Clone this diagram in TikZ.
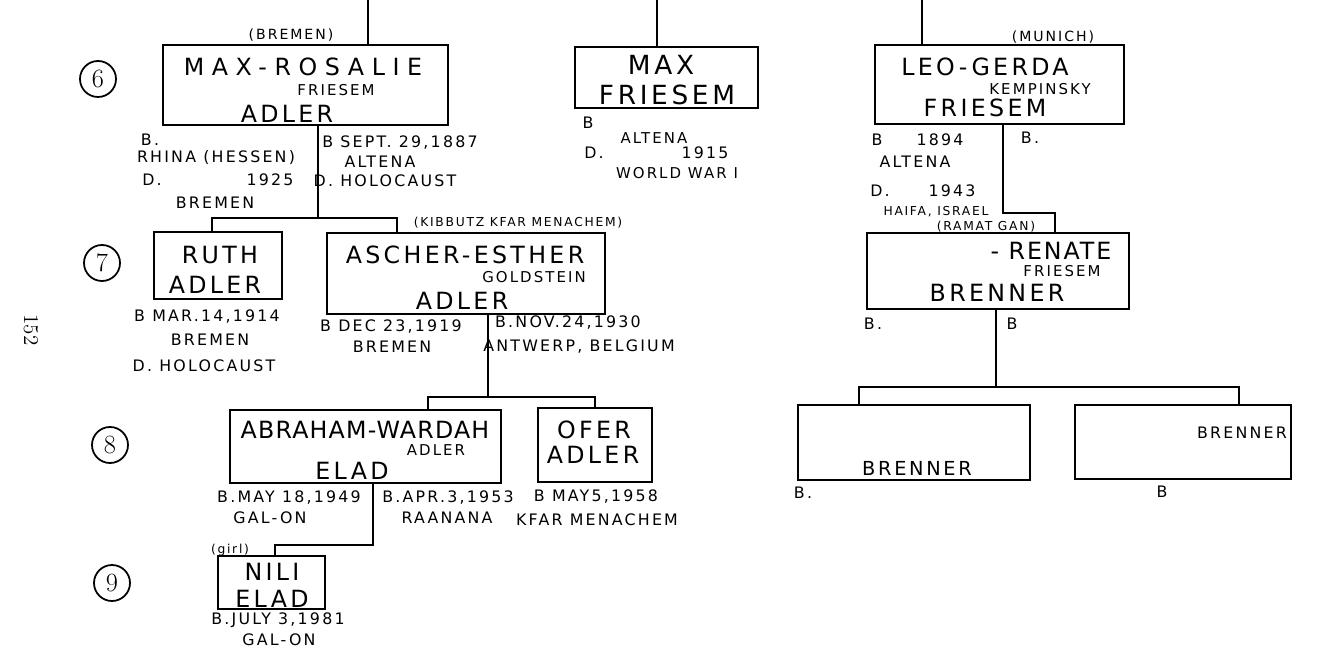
\documentclass[tikz,border=0pt]{standalone}
\usepackage{fontspec}
\newfontfamily\hand[LetterSpace=14]{DejaVu Sans}
\begin{document}
\begin{tikzpicture}[x=0.02cm, y=-0.02cm,
    famblock/.style={draw, line width=1.1pt, inner sep=0pt, outer sep=0pt},
    link/.style={line width=0.8pt},
    bigname/.style={font=\hand\fontsize{13.5}{15}\selectfont, inner sep=0pt},
    spacedname/.style={font=\hand\fontsize{13.5}{15}\selectfont\addfontfeature{LetterSpace=#1}, inner sep=0pt},
    subname/.style={font=\hand\fontsize{8.5}{10}\selectfont, inner sep=0pt},
    dateline/.style={font=\hand\fontsize{9}{11}\selectfont, inner sep=0pt},
    tinynote/.style={font=\hand\fontsize{7}{8}\selectfont, inner sep=0pt},
    gencircle/.style={draw, circle, line width=1pt, minimum size=0.72cm, inner sep=0pt,
      font=\fontsize{15}{17}\selectfont}]
\useasboundingbox (0,0) rectangle (1335,658);
% Generation numbers
\foreach \g/\x/\y in {6/98/79, 7/102/263, 8/110/445, 9/112/583}
    \node[gencircle] (gen\g) at (\x,\y) {\g};
\node[dateline, font=\fontsize{12}{14}\selectfont, rotate=-90] (page) at (31,330) {152};
% Boxes
\node[famblock, minimum width=5.70cm, minimum height=1.60cm] (rosalie) at (305.5,85) {};
\node[famblock, minimum width=3.66cm, minimum height=1.22cm] (maxf) at (666.5,77.5) {};
\node[famblock, minimum width=4.98cm, minimum height=1.58cm] (leo) at (999.5,84.5) {};
\node[famblock, minimum width=5.24cm, minimum height=1.52cm] (renate) at (998,271) {};
\node[famblock, minimum width=2.56cm, minimum height=1.34cm] (ruth) at (218,265.5) {};
\node[famblock, minimum width=5.56cm, minimum height=1.62cm] (ascher) at (466,273.5) {};
\node[famblock, minimum width=5.42cm, minimum height=1.46cm] (abraham) at (365.5,446.5) {};
\node[famblock, minimum width=2.28cm, minimum height=1.48cm] (ofer) at (595,445) {};
\node[famblock, minimum width=2.14cm, minimum height=1.06cm] (nili) at (271.5,582.5) {};
\node[famblock, minimum width=4.64cm, minimum height=1.50cm] (brenA) at (914,442.5) {};
\node[famblock, minimum width=4.32cm, minimum height=1.48cm] (brenB) at (1183,442) {};
% Max - Rosalie
\node[tinynote, font=\hand\fontsize{8}{9}\selectfont] (rosPlace) at (291,35) {(BREMEN)};
\node[spacedname=32] (rosName) at (303,67) {MAX-ROSALIE};
\node[subname] (rosMaiden) at (336,90) {FRIESEM};
\node[bigname] (rosFam) at (287,114) {ADLER};
\node[dateline] (rosB1) at (150,140) {B.};
\node[dateline] (rosB1p) at (216,158) {RHINA (HESSEN)};
\node[dateline] (rosD1) at (152,180) {D.};
\node[dateline] (rosD1y) at (270,180) {1925};
\node[dateline] (rosD1p) at (215,203) {BREMEN};
\node[dateline] (rosB2) at (400,143) {B SEPT. 29,1887};
\node[dateline] (rosB2p) at (380,162) {ALTENA};
\node[dateline] (rosD2) at (385,181) {D. HOLOCAUST};
% Max Friesem
\node[bigname, font=\hand\fontsize{15}{17}\selectfont] (maxName) at (661,65) {MAX};
\node[bigname, font=\hand\fontsize{15}{17}\selectfont] (maxFam) at (667,95) {FRIESEM};
\node[dateline] (maxB) at (588,123) {B};
\node[subname] (maxBp) at (654,138) {ALTENA};
\node[dateline] (maxD) at (594,153) {D.};
\node[dateline] (maxDy) at (705,153) {1915};
\node[subname] (maxDp) at (677,173) {WORLD WAR I};
% Leo - Gerda
\node[tinynote, font=\hand\fontsize{8}{9}\selectfont] (leoPlace) at (1053,37) {(MUNICH)};
\node[bigname] (leoName) at (985,67) {LEO-GERDA};
\node[subname] (leoMaiden) at (1040,89) {KEMPINSKY};
\node[bigname] (leoFam) at (985,108) {FRIESEM};
\node[dateline] (leoB1) at (877,140) {B};
\node[dateline] (leoB1y) at (940,140) {1894};
\node[dateline] (leoB2) at (1030,138) {B.};
\node[dateline] (leoB1p) at (915,162) {ALTENA};
\node[dateline] (leoD1) at (880,191) {D.};
\node[dateline] (leoD1y) at (952,191) {1943};
\node[tinynote] (leoD1p) at (936,212) {HAIFA, ISRAEL};
\node[tinynote] (leoD1q) at (986,227) {(RAMAT GAN)};
% Renate
\node[spacedname=8] (renName) at (1051,251) {- RENATE};
\node[subname] (renMaiden) at (1062,271) {FRIESEM};
\node[bigname] (renFam) at (997,293) {BRENNER};
\node[dateline] (renB1) at (873,324) {B.};
\node[dateline] (renB2) at (1012,324) {B};
\node[dateline, font=\hand\fontsize{11}{13}\selectfont] (brenAName) at (917,468) {BRENNER};
\node[dateline] (brenAB) at (803,493) {B.};
\node[dateline] (brenBName) at (1242,433) {BRENNER};
\node[dateline] (brenBB) at (1162,492) {B};
% Ruth
\node[bigname] (ruthName) at (220,255) {RUTH};
\node[bigname] (ruthFam) at (215,285) {ADLER};
\node[dateline] (ruthB) at (207,317) {B MAR.14,1914};
\node[dateline] (ruthBp) at (210,340) {BREMEN};
\node[dateline] (ruthD) at (204,366) {D. HOLOCAUST};
% Ascher - Esther
\node[tinynote] (ascPlace) at (518,223) {(KIBBUTZ KFAR MENACHEM)};
\node[bigname] (ascName) at (465,255) {ASCHER-ESTHER};
\node[subname] (ascMaiden) at (534,277) {GOLDSTEIN};
\node[bigname] (ascFam) at (462,301) {ADLER};
\node[dateline] (ascB1) at (391,327) {B DEC 23,1919};
\node[dateline] (ascB1p) at (392,347) {BREMEN};
\node[dateline] (ascB2) at (568,323) {B.NOV.24,1930};
\node[dateline] (ascB2p) at (579,347) {ANTWERP, BELGIUM};
% Abraham - Wardah
\node[spacedname=5] (abrName) at (365,430) {ABRAHAM-WARDAH};
\node[subname] (abrMaiden) at (436,450) {ADLER};
\node[bigname] (abrFam) at (352,471) {ELAD};
\node[dateline] (abrB1) at (289,498) {B.MAY 18,1949};
\node[dateline] (abrB1p) at (270,518) {GAL-ON};
\node[dateline] (abrB2) at (448,498) {B.APR.3,1953};
\node[dateline] (abrB2p) at (447,518) {RAANANA};
% Ofer
\node[bigname] (oferName) at (594,430) {OFER};
\node[bigname] (oferFam) at (593,455) {ADLER};
\node[dateline] (oferB) at (596,497) {B MAY5,1958};
\node[dateline] (oferBp) at (597,520) {KFAR MENACHEM};
% Nili
\node[tinynote] (niliNote) at (230,550) {(girl)};
\node[bigname] (niliName) at (272,572) {NILI};
\node[bigname] (niliFam) at (272,599) {ELAD};
\node[dateline] (niliB) at (278,620) {B.JULY 3,1981};
\node[dateline] (niliBp) at (279,640) {GAL-ON};
% Connectors
\coordinate (top6) at (368,0);
\coordinate (topMax) at (657,0);
\coordinate (topLeo) at (922,0);
\draw[link] (top6) -- (top6 |- rosalie.north);
\draw[link] (topMax) -- (topMax |- maxf.north);
\draw[link] (topLeo) -- (topLeo |- leo.north);
\coordinate (j7) at (318,218);
\coordinate (j7l) at (212,218);
\coordinate (j7r) at (397,218);
\draw[link] (rosalie.south -| j7) -- (j7);
\draw[link] (ruth.north -| j7l) -- (j7l) -- (j7r) -- (ascher.north -| j7r);
\coordinate (j8) at (488,397);
\coordinate (j8l) at (428,397);
\coordinate (j8r) at (595,397);
\draw[link] (ascher.south -| j8) -- (j8);
\draw[link] (abraham.north -| j8l) -- (j8l) -- (j8r) -- (ofer.north -| j8r);
\coordinate (j9) at (373,545);
\coordinate (j9l) at (275,545);
\draw[link] (abraham.south -| j9) -- (j9) -- (j9l) -- (nili.north -| j9l);
\coordinate (jr) at (1003,213);
\coordinate (jrr) at (1055,213);
\draw[link] (leo.south -| jr) -- (jr) -- (jrr) -- (renate.north -| jrr);
\coordinate (j10) at (996,387);
\coordinate (j10l) at (859,387);
\coordinate (j10r) at (1239,387);
\draw[link] (renate.south -| j10) -- (j10);
\draw[link] (brenA.north -| j10l) -- (j10l) -- (j10r) -- (brenB.north -| j10r);
\end{tikzpicture}
\end{document}
